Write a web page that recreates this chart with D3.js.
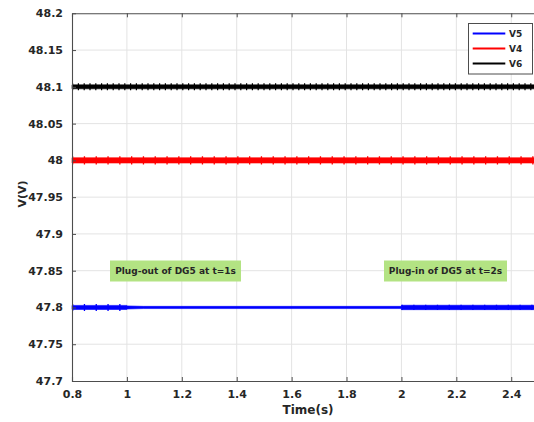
<!DOCTYPE html>
<html>
<head>
<meta charset="utf-8">
<script src="https://cdn.jsdelivr.net/npm/d3@7"></script>
<style>
  body { margin: 0; background: #fff; }
  svg { display: block; overflow: hidden; }
  text { font-family: "DejaVu Sans", sans-serif; font-weight: bold; fill: #262626; }
</style>
</head>
<body>
<script>
// time breakpoints (s) and voltages
var time = [0.8, 1.0, 1.0, 1.06, 2.0, 2.0, 2.5];
var v5 = [47.8, 47.8, 47.8, 47.8, 47.8, 47.8, 47.8];
var v4 = [48.0, 48.0, 48.0, 48.0, 48.0, 48.0, 48.0];
var v6 = [48.1, 48.1, 48.1, 48.1, 48.1, 48.1, 48.1];
// ripple half-band (V) at each breakpoint
var ripple5 = [0.0028, 0.0028, 0.0021, 0.0015, 0.0015, 0.003, 0.003];
var ripple4 = [0.0036, 0.0036, 0.0036, 0.0036, 0.0036, 0.0036, 0.0036];
var ripple6 = [0.0027, 0.0027, 0.0027, 0.0027, 0.0027, 0.0027, 0.0027];
// time ranges where the switching spikes show
var spikes5 = [[0.8, 1.0], [2.0, 2.5]];
var spikes4 = [[0.8, 2.5]];
var spikes6 = [[0.8, 2.5]];

var xTicks = [0.8, 1, 1.2, 1.4, 1.6, 1.8, 2, 2.2, 2.4];
var yTicks = [47.7, 47.75, 47.8, 47.85, 47.9, 47.95, 48, 48.05, 48.1, 48.15, 48.2];
var legendNames = ["V5", "V4", "V6"];
var noteTexts = ["Plug-out of DG5 at t=1s", "Plug-in of DG5 at t=2s"];

var svgWidth = 534, svgHeight = 422;

var svg = d3.select("body").append("svg")
  .attr("width", svgWidth)
  .attr("height", svgHeight);

var x = d3.scaleLinear().domain([0.8, 2.5]).range([72, 538.7]);
var y = d3.scaleLinear().domain([47.7, 48.2]).range([381, 13.3]);

// grid
svg.append("g").selectAll("line").data(xTicks.slice(1)).enter().append("line")
  .attr("x1", d => x(d)).attr("x2", d => x(d))
  .attr("y1", y(48.2)).attr("y2", y(47.7))
  .attr("stroke", "#e3e3e3").attr("stroke-width", 1);
svg.append("g").selectAll("line").data(yTicks.slice(1, -1)).enter().append("line")
  .attr("x1", x(0.8)).attr("x2", x(2.5))
  .attr("y1", d => y(d)).attr("y2", d => y(d))
  .attr("stroke", "#e3e3e3").attr("stroke-width", 1);

// series
var series = [
  { v: v5, r: ripple5, s: spikes5, color: "#0000ff", dash: "1.3 10.5" },
  { v: v4, r: ripple4, s: spikes4, color: "#ff0000", dash: "1.3 10.5" },
  { v: v6, r: ripple6, s: spikes6, color: "#000000", dash: "1.2 4.6" }
];

series.forEach(function(se) {
  var pts = time.map((t, i) => ({ t: t, v: se.v[i], r: se.r[i] }));
  var band = d3.area()
    .x(d => x(d.t))
    .y0(d => y(d.v - d.r))
    .y1(d => y(d.v + d.r));
  svg.append("path").datum(pts)
    .attr("d", band)
    .attr("fill", se.color)
    .attr("stroke", se.color)
    .attr("stroke-width", 0.6);

  // little switching spikes on top of the band
  se.s.forEach(function(rg) {
    var i0 = time.indexOf(rg[0]);
    var thick = Math.abs(y(se.v[i0] - se.r[i0]) - y(se.v[i0] + se.r[i0]));
    svg.append("line")
      .attr("x1", x(rg[0])).attr("x2", x(rg[1]))
      .attr("y1", y(se.v[i0])).attr("y2", y(se.v[i0]))
      .attr("stroke", se.color)
      .attr("stroke-width", thick + 3)
      .attr("stroke-dasharray", se.dash);
  });
});

// axes (MATLAB style, ticks inward)
var xAxisBottom = d3.axisBottom(x).tickValues(xTicks).tickSize(-4).tickPadding(9)
  .tickFormat(d3.format("~g"));
var xAxisTop = d3.axisTop(x).tickValues(xTicks).tickSize(-4).tickFormat("");
var yAxis = d3.axisLeft(y).tickValues(yTicks).tickSize(-4).tickPadding(9)
  .tickFormat(d3.format("~g"));

function styleAxis(g) {
  g.select(".domain").attr("stroke", "#4d4d4d").attr("stroke-width", 1.1);
  g.selectAll(".tick line").attr("stroke", "#4d4d4d");
  g.selectAll(".tick text")
    .attr("font-family", "DejaVu Sans")
    .attr("font-weight", "bold")
    .attr("font-size", 11)
    .attr("fill", "#262626");
}

svg.append("g").attr("transform", `translate(0, ${y(47.7)})`).call(xAxisBottom).call(styleAxis)
  .call(g => g.select(".tick:first-of-type line").remove());
svg.append("g").attr("transform", `translate(0, ${y(48.2)})`).call(xAxisTop).call(styleAxis)
  .call(g => g.select(".tick:first-of-type line").remove());
svg.append("g").attr("transform", `translate(${x(0.8)}, 0)`).call(yAxis).call(styleAxis)
  .call(g => g.selectAll(".tick line").filter(d => d === 47.7 || d === 48.2).remove());

// axis labels
svg.append("text")
  .attr("x", 308).attr("y", 414)
  .attr("text-anchor", "middle")
  .attr("font-size", 12)
  .text("Time(s)");

svg.append("text")
  .attr("transform", "translate(26, 194) rotate(-90)")
  .attr("text-anchor", "middle")
  .attr("font-size", 11)
  .text("V(V)");

// annotation boxes
var noteBoxes = [[110, 241], [384, 507]];
noteTexts.forEach(function(txt, i) {
  var bx = noteBoxes[i];
  svg.append("rect")
    .attr("x", bx[0]).attr("y", 260.5)
    .attr("width", bx[1] - bx[0]).attr("height", 21)
    .attr("fill", "#b3e383");
  svg.append("text")
    .attr("x", (bx[0] + bx[1]) / 2).attr("y", 274)
    .attr("text-anchor", "middle")
    .attr("font-size", 9)
    .attr("fill", "#111")
    .text(txt);
});

// legend
var legend = svg.append("g");
legend.append("rect")
  .attr("x", 468.5).attr("y", 23.5)
  .attr("width", 64).attr("height", 50.5)
  .attr("fill", "#fff")
  .attr("stroke", "#4d4d4d")
  .attr("stroke-width", 1);
var legendColors = ["#0000ff", "#ff0000", "#000000"];
legendNames.forEach(function(name, i) {
  var ly = 33.5 + i * 15;
  legend.append("line")
    .attr("x1", 472.7).attr("x2", 505.3)
    .attr("y1", ly).attr("y2", ly)
    .attr("stroke", legendColors[i]).attr("stroke-width", 2);
  legend.append("text")
    .attr("x", 509).attr("y", ly + 3.5)
    .attr("font-size", 9)
    .text(name);
});
</script>
</body>
</html>
